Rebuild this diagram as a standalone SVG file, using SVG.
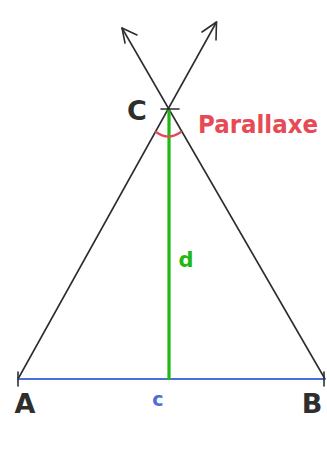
<svg xmlns="http://www.w3.org/2000/svg" width="327" height="455" viewBox="0 0 327 455">
<defs>
<style>
.ln{stroke:#2e2e2e;stroke-width:1.6;fill:none;stroke-linecap:round;stroke-linejoin:round}
.lbl{font-family:"DejaVu Sans","Liberation Sans",sans-serif;font-weight:bold;fill:#2e2e2e}
</style>
</defs>
<rect width="327" height="455" fill="#ffffff"/>
<g id="connectors">
<line class="ln" x1="18" y1="379" x2="216.5" y2="22"/>
<line class="ln" x1="325" y1="379" x2="122" y2="28"/>
<polyline class="ln" points="202,32 216.5,22 216,40"/>
<polyline class="ln" points="137,35 122,28 125,43"/>
<line x1="18" y1="379" x2="325" y2="379" stroke="#4a6fd6" stroke-width="2.2"/>
<line x1="169" y1="110" x2="169" y2="380" stroke="#22b814" stroke-width="3.2"/>
<path d="M156,132 Q168,141 181,132" fill="none" stroke="#e84a55" stroke-width="2.2" stroke-linecap="round"/>
</g>
<g id="node-A">
<line class="ln" x1="18" y1="372" x2="18" y2="386" stroke-width="2.4"/>
<text class="lbl" x="25" y="413" font-size="27" text-anchor="middle">A</text>
</g>
<g id="node-B">
<line class="ln" x1="324" y1="372" x2="324" y2="386" stroke-width="2.4"/>
<text class="lbl" x="312" y="413" font-size="27" text-anchor="middle">B</text>
</g>
<g id="node-C">
<line class="ln" x1="161" y1="109" x2="179" y2="109" stroke-width="2.6"/>
<text class="lbl" x="137" y="120" font-size="27" text-anchor="middle">C</text>
</g>
<g id="label-parallaxe">
<text x="198" y="133" font-family="DejaVu Sans,sans-serif" font-weight="bold" font-size="24" fill="#e84a55" textLength="120" lengthAdjust="spacingAndGlyphs">Parallaxe</text>
</g>
<g id="label-d">
<text x="186" y="267" font-family="DejaVu Sans,sans-serif" font-weight="bold" font-size="21" fill="#22b814" text-anchor="middle">d</text>
</g>
<g id="label-c">
<text x="158" y="406" font-family="DejaVu Sans,sans-serif" font-weight="bold" font-size="19" fill="#4a6fd6" text-anchor="middle">c</text>
</g>
</svg>
